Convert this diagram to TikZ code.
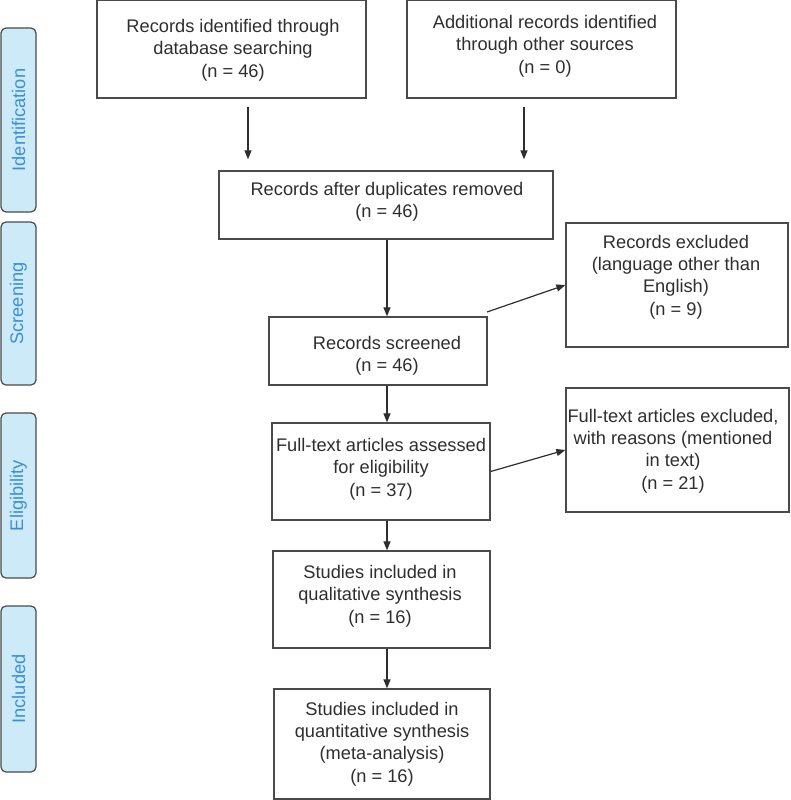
\documentclass[tikz,border=0pt]{standalone}
\usepackage{fontspec}
\setmainfont{Liberation Sans}
\usetikzlibrary{arrows.meta}
\definecolor{edge}{HTML}{4A4A4A}
\definecolor{ink}{HTML}{2E2E2E}
\definecolor{lblfill}{HTML}{CDEAF9}
\definecolor{lbltext}{HTML}{3C8FD4}
\tikzset{
  box/.style={draw=edge, line width=1.3pt, inner sep=0pt, anchor=center},
  txt/.style={align=center, text=ink, font=\fontsize{18.25}{22.3}\selectfont, inner sep=0pt},
  stage/.style={draw=edge, line width=1.2pt, fill=lblfill, rounded corners=5pt, rotate=90,
    text=lbltext, font=\fontsize{18.25}{22}\selectfont, inner sep=0pt, minimum height=35pt},
  arr/.style={draw=ink, line width=1.2pt, -{Triangle[length=9pt,width=7pt]}},
}
\begin{document}
\begin{tikzpicture}[x=1pt,y=-1pt]
\useasboundingbox (0,0) rectangle (790,800);

% stage labels
\node[stage, minimum width=184pt] (lid) at (18.5,120) {Identification};
\node[stage, minimum width=163pt] (lsc) at (18.5,303.5) {Screening};
\node[stage, minimum width=165pt] (lel) at (18.5,495.5) {Eligibility};
\node[stage, minimum width=166pt] (lin) at (18.5,689) {Included};

% boxes
\node[box, minimum width=269pt, minimum height=97.3pt] (db) at (231.5,49.35) {};
\node[txt] (dbt) at (233,50) {Records identified through\\database searching\\(n = 46)};

\node[box, minimum width=269pt, minimum height=97.3pt] (oth) at (541.5,49.35) {};
\node[txt] (otht) at (545,46) {Additional records identified\\through other sources\\(n = 0)};

\node[box, minimum width=334pt, minimum height=68pt] (dup) at (386,205) {};
\node[txt] (dupt) at (387,202) {Records after duplicates removed\\(n = 46)};

\node[box, minimum width=222pt, minimum height=124pt] (excl) at (677,285) {};
\node[txt] (exclt) at (676,277) {Records excluded\\(language other than\\English)\\(n = 9)};

\node[box, minimum width=218pt, minimum height=68pt] (scr) at (378,351) {};
\node[txt] (scrt) at (387,356) {Records screened\\(n = 46)};

\node[box, minimum width=218pt, minimum height=97pt] (ft) at (381,471.5) {};
\node[txt] (ftt) at (381,469) {Full-text articles assessed\\for eligibility\\(n = 37)};

\node[box, minimum width=223pt, minimum height=124pt] (ftex) at (677.5,450) {};
\node[txt] (ftext) at (673,451) {Full-text articles excluded,\\with reasons (mentioned\\in text)\\(n = 21)};

\node[box, minimum width=217pt, minimum height=97pt] (qual) at (381.5,599.5) {};
\node[txt] (qualt) at (380,596) {Studies included in\\qualitative synthesis\\(n = 16)};

\node[box, minimum width=216pt, minimum height=110pt] (quant) at (382,744) {};
\node[txt] (quantt) at (382,744) {Studies included in\\quantitative synthesis\\(meta-analysis)\\(n = 16)};

% connector helpers
\coordinate (c1) at (248,0);
\coordinate (c2) at (524,0);
\coordinate (sp) at (387,0);
\coordinate (s1) at (487,312);

\draw[arr, shorten <=8pt, shorten >=11pt] (db.south -| c1) -- (dup.north -| c1);
\draw[arr, shorten <=8pt, shorten >=11pt] (oth.south -| c2) -- (dup.north -| c2);
\draw[arr] (dup.south -| sp) -- (scr.north -| sp);
\draw[arr] (scr.south -| sp) -- (ft.north -| sp);
\draw[arr] (ft.south -| sp) -- (qual.north -| sp);
\draw[arr] (qual.south -| sp) -- (quant.north -| sp);
\draw[arr] (s1) -- (excl.west);
\draw[arr] (ft.east) -- (ftex.west);
\end{tikzpicture}
\end{document}
